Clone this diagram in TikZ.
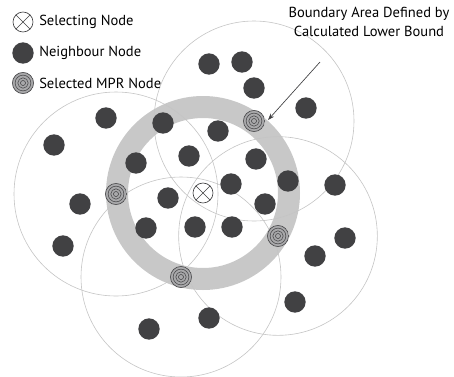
\documentclass[tikz,border=0pt]{standalone}
\usepackage{fontspec}
\setmainfont{PT Sans}
\usetikzlibrary{arrows.meta}
\definecolor{dotc}{HTML}{414143}
\definecolor{ringc}{HTML}{C8C8C8}
\definecolor{rangec}{HTML}{C4C4C4}
\definecolor{mprfill}{HTML}{A9A9AB}
\definecolor{mprline}{HTML}{4A4A4C}
\tikzset{
  nbr/.style={circle, fill=dotc, minimum size=16pt, inner sep=0pt},
  mpr/.style={circle, fill=mprfill, minimum size=16.5pt, inner sep=0pt,
    path picture={
      \foreach \r in {7.9pt,5.9pt,3.9pt,1.9pt}
        \draw[mprline, line width=0.45pt] (path picture bounding box.center) circle (\r);
    }},
  selnode/.style={circle, draw=dotc, line width=0.5pt, fill=white, minimum size=15pt, inner sep=0pt,
    path picture={
      \draw[dotc, line width=0.5pt] (path picture bounding box.center) +(45:8pt) -- +(225:8pt)
        (path picture bounding box.center) +(135:8pt) -- +(315:8pt);
    }},
  rangecirc/.style={draw=rangec, line width=0.45pt},
  txt/.style={font=\fontsize{10.9pt}{14.25pt}\selectfont, text=black, inner sep=0pt},
}
\begin{document}
\begin{tikzpicture}[x=0.75pt, y=-0.75pt]
  \useasboundingbox (0,0) rectangle (454,376);

  % selecting node and its boundary band
  \coordinate (c0) at (203,193);
  \draw[ringc, line width=16.5pt] (c0) circle (64.5pt);

  % MPR positions
  \coordinate (p1) at (254,121);
  \coordinate (p2) at (116,194);
  \coordinate (p3) at (278,236);
  \coordinate (p4) at (181,277);

  % transmission ranges of the MPRs
  \draw[rangecirc] (p1) circle (75pt);
  \draw[rangecirc] (p2) circle (76.5pt);
  \draw[rangecirc] (p3) circle (74.5pt);
  \draw[rangecirc] (p4) circle (75pt);

  % neighbour nodes
  \node[nbr] (n1)  at (209,64)  {};
  \node[nbr] (n2)  at (242,62)  {};
  \node[nbr] (n3)  at (254,88)  {};
  \node[nbr] (n4)  at (306,108) {};
  \node[nbr] (n5)  at (106,118) {};
  \node[nbr] (n6)  at (54,145)  {};
  \node[nbr] (n7)  at (163,123) {};
  \node[nbr] (n8)  at (218,131) {};
  \node[nbr] (n9)  at (136,163) {};
  \node[nbr] (n10) at (189,156) {};
  \node[nbr] (n11) at (256,159) {};
  \node[nbr] (n12) at (288,181) {};
  \node[nbr] (n13) at (335,185) {};
  \node[nbr] (n14) at (231,184) {};
  \node[nbr] (n15) at (80,204)  {};
  \node[nbr] (n16) at (168,198) {};
  \node[nbr] (n17) at (265,204) {};
  \node[nbr] (n18) at (146,228) {};
  \node[nbr] (n19) at (195,227) {};
  \node[nbr] (n20) at (232,227) {};
  \node[nbr] (n21) at (63,246)  {};
  \node[nbr] (n22) at (345,238) {};
  \node[nbr] (n23) at (315,256) {};
  \node[nbr] (n24) at (295,302) {};
  \node[nbr] (n25) at (209,318) {};
  \node[nbr] (n26) at (149,329) {};

  % selected MPR nodes
  \node[mpr] (m1) at (p1) {};
  \node[mpr] (m2) at (p2) {};
  \node[mpr] (m3) at (p3) {};
  \node[mpr] (m4) at (p4) {};

  % selecting node
  \node[selnode] (s) at (c0) {};

  % legend
  \node[selnode] (ls) at (23,22) {};
  \node[nbr]     (ln) at (23,53) {};
  \node[mpr]     (lm) at (23,83) {};
  \node[txt, anchor=west] (lst) at (39,22) {Selecting Node};
  \node[txt, anchor=west] (lnt) at (39,53) {Neighbour Node};
  \node[txt, anchor=west] (lmt) at (39,83) {Selected MPR Node};

  % boundary annotation
  \node[txt, align=center] (blabel) at (369,22) {Boundary Area Defined by\\Calculated Lower Bound};
  \coordinate (atail) at (320,62);
  \coordinate (atip) at (268,120);
  \draw[dotc, line width=0.5pt, -{Stealth[length=5pt, width=3.5pt]}] (atail) -- (atip);
\end{tikzpicture}
\end{document}
